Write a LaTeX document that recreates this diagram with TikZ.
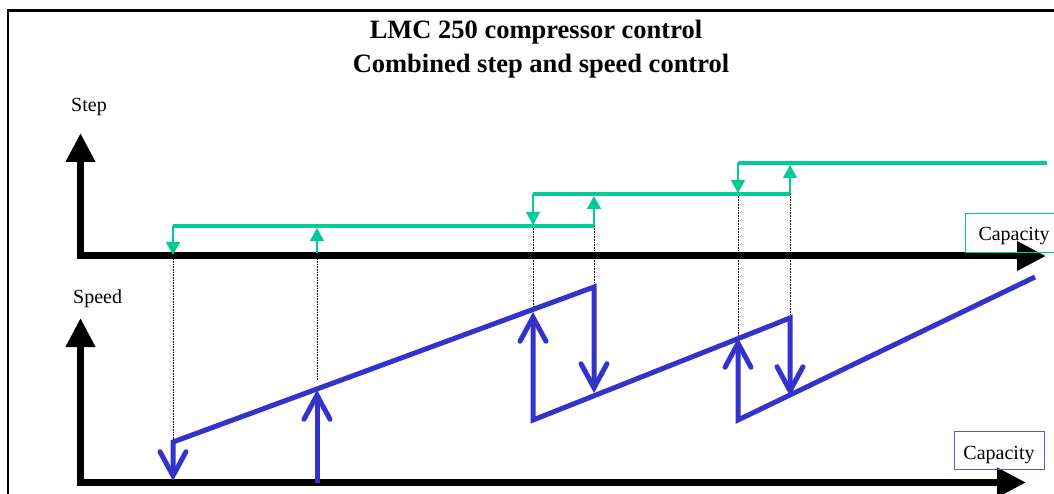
\documentclass[tikz,border=0pt]{standalone}
\usepackage{fontspec}
\setmainfont{Liberation Serif}
\usetikzlibrary{arrows.meta}
\definecolor{stepgreen}{HTML}{00CC99}
\definecolor{speedblue}{HTML}{3333CC}
\definecolor{boxblue}{HTML}{5555DD}
\begin{document}
\begin{tikzpicture}[x=1pt,y=-1pt,
  axis/.style={line width=7pt,-{Triangle[length=29pt,width=28pt]}},
  stepline/.style={stepgreen,line width=4pt},
  steparrow/.style={stepgreen,line width=1.5pt,-{Triangle[length=13pt,width=14pt]}},
  speedline/.style={speedblue,line width=5pt},
  barb/.tip={Straight Barb[length=24pt,width=26pt,line cap=round]},
  guide/.style={densely dotted,line width=0.6pt,black},
  lbl/.style={font=\fontsize{20pt}{24pt}\selectfont,inner sep=0pt},
  ttl/.style={font=\fontsize{26.5pt}{30pt}\selectfont\bfseries,inner sep=0pt}]
\useasboundingbox (0,0) rectangle (1054,494);
\clip (0,0) rectangle (1054,494);
% frame
\draw[line width=2.3pt] (8,10.5) rectangle (1080,520);
% title
\node[ttl,anchor=base] (t1) at (536,39) {LMC 250 compressor control};
\node[ttl,anchor=base] (t2) at (541,72.7) {Combined step and speed control};
% coordinates
\coordinate (x1a) at (173,256); \coordinate (x1b) at (173,440);
\coordinate (x2a) at (317,256); \coordinate (x2b) at (317,380);
\coordinate (x3a) at (533,226); \coordinate (x3b) at (533,311);
\coordinate (x4a) at (594,226); \coordinate (x4b) at (594,287);
\coordinate (x5a) at (738,194); \coordinate (x5b) at (738,336);
\coordinate (x6a) at (790,194); \coordinate (x6b) at (790,318);
% dotted guides
\draw[guide] (x1a) -- (x1b);
\draw[guide] (x2a) -- (x2b);
\draw[guide] (x3a) -- (x3b);
\draw[guide] (x4a) -- (x4b);
\draw[guide] (x5a) -- (x5b);
\draw[guide] (x6a) -- (x6b);
% axes
\draw[axis] (80.5,259.5) -- (80.5,133);
\draw[axis] (79,256) -- (1046,256);
\draw[axis] (80.5,486) -- (80.5,318);
\draw[axis] (79,482.5) -- (1026,482.5);
% labels
\node[lbl,anchor=base west] (step) at (71,112) {Step};
\node[lbl,anchor=base west] (speed) at (73,303) {Speed};
\node[lbl,draw=stepgreen,line width=1pt,minimum height=39pt,inner xsep=13pt,text height=15pt,text depth=0pt,anchor=west] (captop) at (965,233.5) {Capacity};
\node[lbl,draw=boxblue,line width=1pt,minimum width=90pt,minimum height=38pt,text height=19pt,text depth=0pt] (capbot) at (999,450) {Capacity};
% step levels
\draw[stepline] (173,226) -- (594,226);
\draw[stepline] (533,194) -- (790,194);
\draw[stepline] (738,163) -- (1047,163);
\draw[steparrow] (173,226) -- (173,255);
\draw[steparrow] (533,194) -- (533,225);
\draw[steparrow] (738,163) -- (738,193);
\draw[steparrow] (317,253) -- (317,228);
\draw[steparrow] (594,226) -- (594,196);
\draw[steparrow] (790,194) -- (790,165);
% speed curve
\draw[speedline,{barb}-{barb}] (173,481) -- (173,442) -- (594,287) -- (594,393);
\draw[speedline,{barb}-{barb}] (533,312) -- (533,420) -- (790,318) -- (790,396);
\draw[speedline,{barb}-] (738,338) -- (738,420) -- (1035,277);
\draw[speedline,-{barb}] (317,483) -- (317,390);
\end{tikzpicture}
\end{document}
